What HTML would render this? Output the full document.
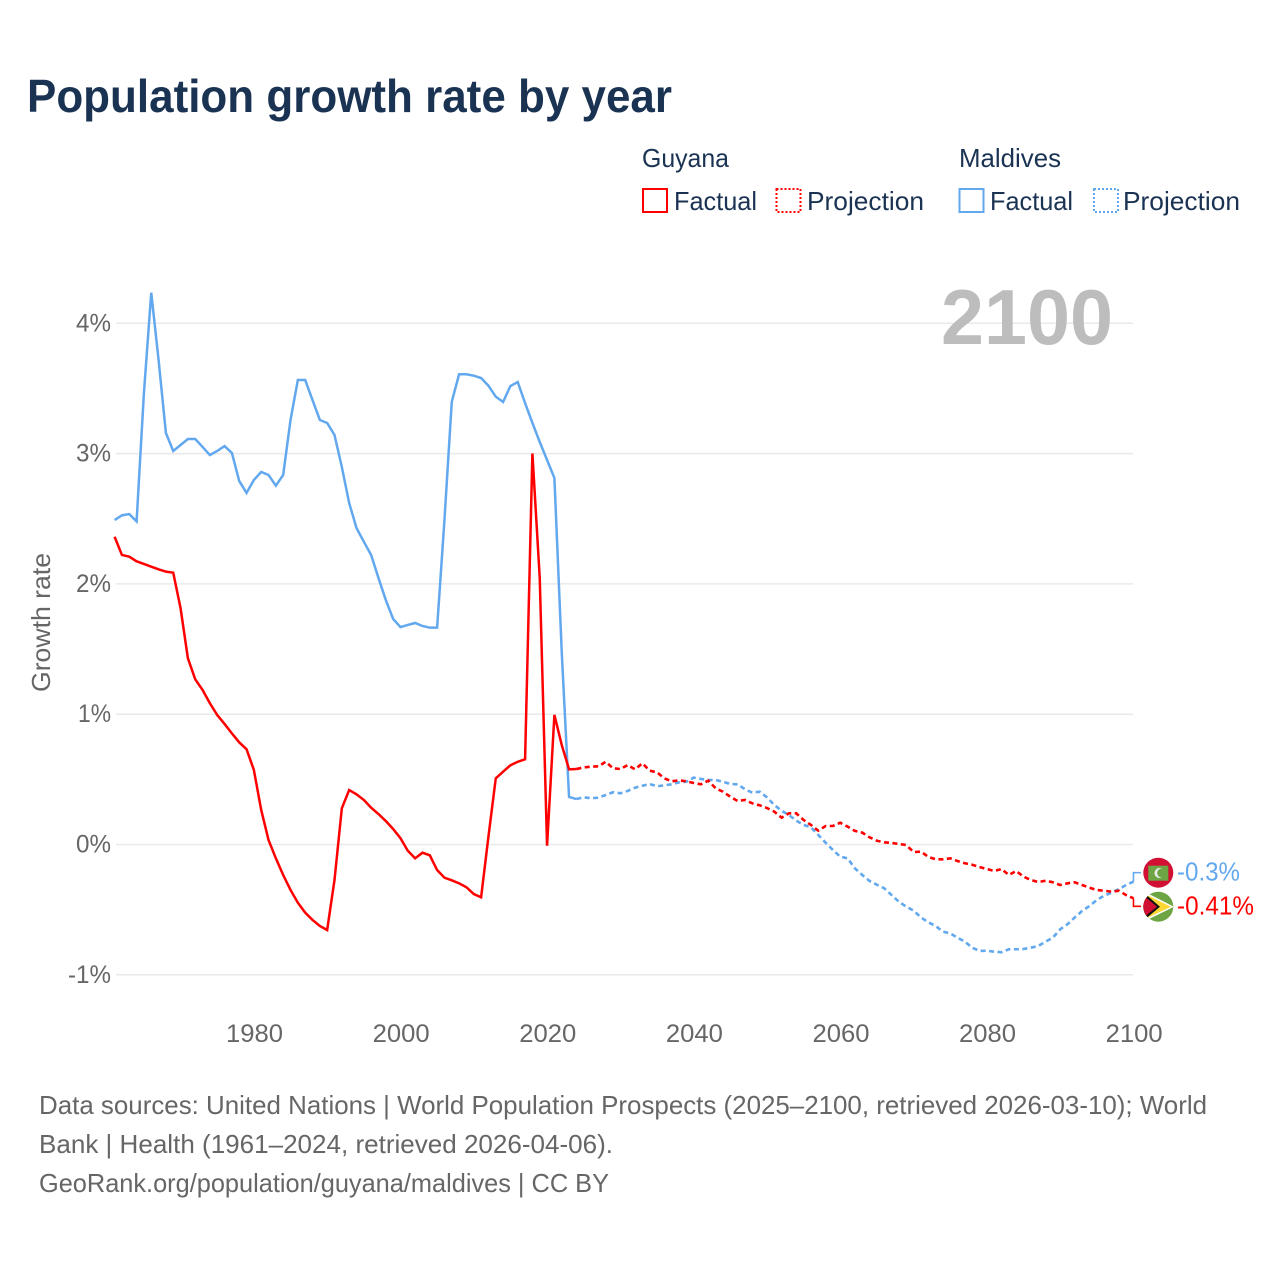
<!DOCTYPE html>
<html lang="en">
<head>
<meta charset="utf-8">
<title>Population growth rate by year</title>
<style>
html,body{margin:0;padding:0;background:#fff;width:1280px;height:1280px;overflow:hidden}
svg{display:block}
text{font-family:"Liberation Sans","DejaVu Sans",sans-serif}
</style>
</head>
<body>
<svg id="chart" xmlns="http://www.w3.org/2000/svg" width="1280" height="1280" viewBox="0 0 1280 1280">
  <defs>
    <clipPath id="flag-clip-m"><circle cx="1158.3" cy="872.7" r="15"/></clipPath>
    <clipPath id="flag-clip-g"><circle cx="1158.3" cy="906.7" r="15"/></clipPath>
  </defs>
  <rect width="1280" height="1280" fill="#fff"/>
  <text x="27" y="112" font-size="46" font-weight="700" fill="#1a3353" textLength="645" lengthAdjust="spacingAndGlyphs">Population growth rate by year</text>

  <g font-size="26" fill="#1a3353">
    <text x="642" y="167" textLength="87" lengthAdjust="spacingAndGlyphs">Guyana</text>
    <text x="959" y="167" textLength="102" lengthAdjust="spacingAndGlyphs">Maldives</text>
    <rect x="643" y="189" width="24" height="23" fill="none" stroke="#ff0000" stroke-width="2"/>
    <text x="674" y="210" textLength="83" lengthAdjust="spacingAndGlyphs">Factual</text>
    <rect x="776.5" y="189" width="24" height="23" fill="none" stroke="#ff0000" stroke-width="2" stroke-dasharray="2,2"/>
    <text x="807" y="210" textLength="117" lengthAdjust="spacingAndGlyphs">Projection</text>
    <rect x="959.5" y="189" width="24" height="23" fill="none" stroke="#62a8ee" stroke-width="2"/>
    <text x="990" y="210" textLength="83" lengthAdjust="spacingAndGlyphs">Factual</text>
    <rect x="1094" y="189" width="24" height="23" fill="none" stroke="#62a8ee" stroke-width="2" stroke-dasharray="2,2"/>
    <text x="1123" y="210" textLength="117" lengthAdjust="spacingAndGlyphs">Projection</text>
  </g>

  <g id="grid"></g>
  <g id="yticks" font-size="25" fill="#666"></g>
  <g id="xticks" font-size="25" fill="#666"></g>
  <text transform="translate(50,622.5) rotate(-90)" text-anchor="middle" font-size="26" fill="#666" textLength="139" lengthAdjust="spacingAndGlyphs">Growth rate</text>
  <text x="941" y="344" font-size="78" font-weight="700" fill="#bdbdbd" textLength="172" lengthAdjust="spacingAndGlyphs">2100</text>

  <g id="series"></g>

  <g id="flag-maldives" clip-path="url(#flag-clip-m)">
    <rect x="1143" y="857" width="31" height="31" fill="#d21034"/>
    <rect x="1148.3" y="865.7" width="20" height="15" fill="#6ea544"/>
    <circle cx="1159.5" cy="873" r="5" fill="#eee"/>
    <circle cx="1161.5" cy="873" r="4.4" fill="#6ea544"/>
  </g>
  <g id="flag-guyana" clip-path="url(#flag-clip-g)">
    <rect x="1143" y="891" width="31" height="31" fill="#6ea544"/>
    <path d="M1143 891 L1174 906.7 L1143 922 Z" fill="#fff"/>
    <path d="M1143 893 L1171 906.7 L1143 920 Z" fill="#fdd835"/>
    <path d="M1143 892 L1160 906.7 L1143 921 Z" fill="#111"/>
    <path d="M1143 895 L1157 906.7 L1143 918 Z" fill="#d21034"/>
  </g>

  <g font-size="26" fill="#666">
    <text x="39" y="1114" textLength="1168" lengthAdjust="spacingAndGlyphs">Data sources: United Nations | World Population Prospects (2025–2100, retrieved 2026-03-10); World</text>
    <text x="39" y="1153" textLength="574" lengthAdjust="spacingAndGlyphs">Bank | Health (1961–2024, retrieved 2026-04-06).</text>
    <text x="39" y="1192" textLength="570" lengthAdjust="spacingAndGlyphs">GeoRank.org/population/guyana/maldives | CC BY</text>
  </g>
</svg>
<script>
const factualStartYear = 1961;
const projectionStartYear = 2024;
const xTickYears = [1980, 2000, 2020, 2040, 2060, 2080, 2100];
const yTickValues = [4, 3, 2, 1, 0, -1];
const yTickLabels = ['4%', '3%', '2%', '1%', '0%', '-1%'];
const yTickWidths = [35, 35, 35, 33, 35, 43];

const guyanaFactual = [2.362,2.222,2.209,2.173,2.153,2.132,2.112,2.094,2.086,1.813,1.429,1.268,1.186,1.084,0.994,0.925,0.853,0.784,0.731,0.572,0.265,0.035,-0.106,-0.234,-0.349,-0.447,-0.523,-0.579,-0.625,-0.656,-0.272,0.278,0.418,0.385,0.342,0.282,0.234,0.180,0.119,0.048,-0.048,-0.106,-0.063,-0.083,-0.196,-0.255,-0.275,-0.298,-0.328,-0.380,-0.405,0.060,0.508,0.559,0.608,0.635,0.654,3.001,2.045,-0.009,0.994,0.764,0.577,0.579];
const guyanaProjection = [0.579,0.592,0.597,0.600,0.635,0.585,0.579,0.610,0.577,0.623,0.566,0.554,0.508,0.485,0.493,0.485,0.472,0.462,0.490,0.431,0.405,0.367,0.334,0.342,0.316,0.301,0.280,0.252,0.206,0.239,0.239,0.188,0.150,0.106,0.142,0.142,0.167,0.137,0.104,0.091,0.055,0.029,0.017,0.012,0.004,-0.004,-0.058,-0.055,-0.094,-0.114,-0.114,-0.106,-0.127,-0.144,-0.155,-0.173,-0.188,-0.203,-0.188,-0.234,-0.203,-0.247,-0.272,-0.288,-0.278,-0.290,-0.311,-0.298,-0.290,-0.311,-0.332,-0.349,-0.355,-0.362,-0.355,-0.388,-0.413];
const maldivesFactual = [2.490,2.526,2.536,2.480,3.465,4.235,3.718,3.158,3.020,3.066,3.112,3.112,3.051,2.989,3.020,3.058,3.005,2.790,2.698,2.797,2.859,2.836,2.754,2.836,3.258,3.565,3.565,3.411,3.258,3.235,3.143,2.897,2.621,2.429,2.324,2.222,2.045,1.876,1.731,1.669,1.685,1.700,1.677,1.664,1.664,2.490,3.398,3.609,3.609,3.598,3.580,3.521,3.437,3.396,3.519,3.549,3.388,3.235,3.089,2.951,2.813,1.477,0.365,0.349];
const maldivesProjection = [0.349,0.362,0.355,0.359,0.380,0.401,0.393,0.411,0.436,0.451,0.464,0.447,0.454,0.462,0.477,0.482,0.513,0.503,0.495,0.495,0.482,0.464,0.462,0.424,0.398,0.405,0.362,0.303,0.259,0.226,0.183,0.150,0.132,0.073,0.014,-0.042,-0.094,-0.106,-0.183,-0.234,-0.280,-0.309,-0.336,-0.388,-0.439,-0.477,-0.508,-0.559,-0.597,-0.625,-0.669,-0.682,-0.715,-0.746,-0.792,-0.817,-0.815,-0.823,-0.827,-0.804,-0.804,-0.802,-0.792,-0.779,-0.746,-0.715,-0.651,-0.612,-0.559,-0.510,-0.472,-0.426,-0.393,-0.370,-0.342,-0.311,-0.285];
const guyanaEndLabel = '-0.41%';
const maldivesEndLabel = '-0.3%';

const NS = 'http://www.w3.org/2000/svg';
function xScale(year) { return 114.6 + (year - 1961) * 7.33; }
function yScale(v) { return 844.5 - v * 130.3; }
function make(tag, attrs, parent) {
  const el = document.createElementNS(NS, tag);
  for (const k in attrs) el.setAttribute(k, attrs[k]);
  parent.appendChild(el);
  return el;
}
function linePath(values, startYear) {
  return values.map(function (v, i) {
    return (i ? 'L' : 'M') + xScale(startYear + i).toFixed(2) + ' ' + yScale(v).toFixed(2);
  }).join(' ');
}

const gridG = document.getElementById('grid');
const yG = document.getElementById('yticks');
yTickValues.forEach(function (v, i) {
  const line = make('line', { x1: 116, x2: 1133, y1: yScale(v), y2: yScale(v), stroke: '#e9e9e9', 'stroke-width': 1.5 }, gridG);
  
  
  const t = make('text', { x: 111, y: yScale(v) + 8, 'text-anchor': 'end', textLength: yTickWidths[i], lengthAdjust: 'spacingAndGlyphs' }, yG);
  
  
  t.textContent = yTickLabels[i];
});

const xG = document.getElementById('xticks');
xTickYears.forEach(function (year) {
  const t = make('text', { x: xScale(year) + 0.7, y: 1042, 'text-anchor': 'middle', textLength: 57, lengthAdjust: 'spacingAndGlyphs' }, xG);
  
  
  t.textContent = String(year);
});

const seriesG = document.getElementById('series');
const RED = '#ff0000';
const BLUE = '#62a8ee';

const maldivesFactualLine = make('path', { d: linePath(maldivesFactual, factualStartYear), fill: 'none', stroke: BLUE, 'stroke-width': 2.5, 'stroke-linejoin': 'miter' }, seriesG);


const guyanaFactualLine = make('path', { d: linePath(guyanaFactual, factualStartYear), fill: 'none', stroke: RED, 'stroke-width': 2.5, 'stroke-linejoin': 'miter' }, seriesG);


const maldivesProjectionLine = make('path', { d: linePath(maldivesProjection, projectionStartYear), fill: 'none', stroke: BLUE, 'stroke-width': 2.6, 'stroke-dasharray': '5,3.5' }, seriesG);


const guyanaProjectionLine = make('path', { d: linePath(guyanaProjection, projectionStartYear), fill: 'none', stroke: RED, 'stroke-width': 2.6, 'stroke-dasharray': '5,3.5' }, seriesG);



const mEndY = yScale(maldivesProjection[maldivesProjection.length - 1]);
const gEndY = yScale(guyanaProjection[guyanaProjection.length - 1]);
const endX = xScale(2100);

const mLeader = make('path', { d: 'M' + endX + ' ' + mEndY + ' V' + (mEndY - 9) + ' H1141', fill: 'none', stroke: BLUE, 'stroke-width': 1.6 }, seriesG);


const gLeader = make('path', { d: 'M' + endX + ' ' + gEndY + ' V' + (gEndY + 8) + ' H1141', fill: 'none', stroke: RED, 'stroke-width': 1.6 }, seriesG);



const mLabel = make('text', { x: 1177, y: mEndY - 1, 'font-size': 26, fill: BLUE, textLength: 63, lengthAdjust: 'spacingAndGlyphs' }, seriesG);


mLabel.textContent = maldivesEndLabel;
const gLabel = make('text', { x: 1177, y: gEndY + 16, 'font-size': 26, fill: RED, textLength: 77, lengthAdjust: 'spacingAndGlyphs' }, seriesG);


gLabel.textContent = guyanaEndLabel;
</script>
</body>
</html>
